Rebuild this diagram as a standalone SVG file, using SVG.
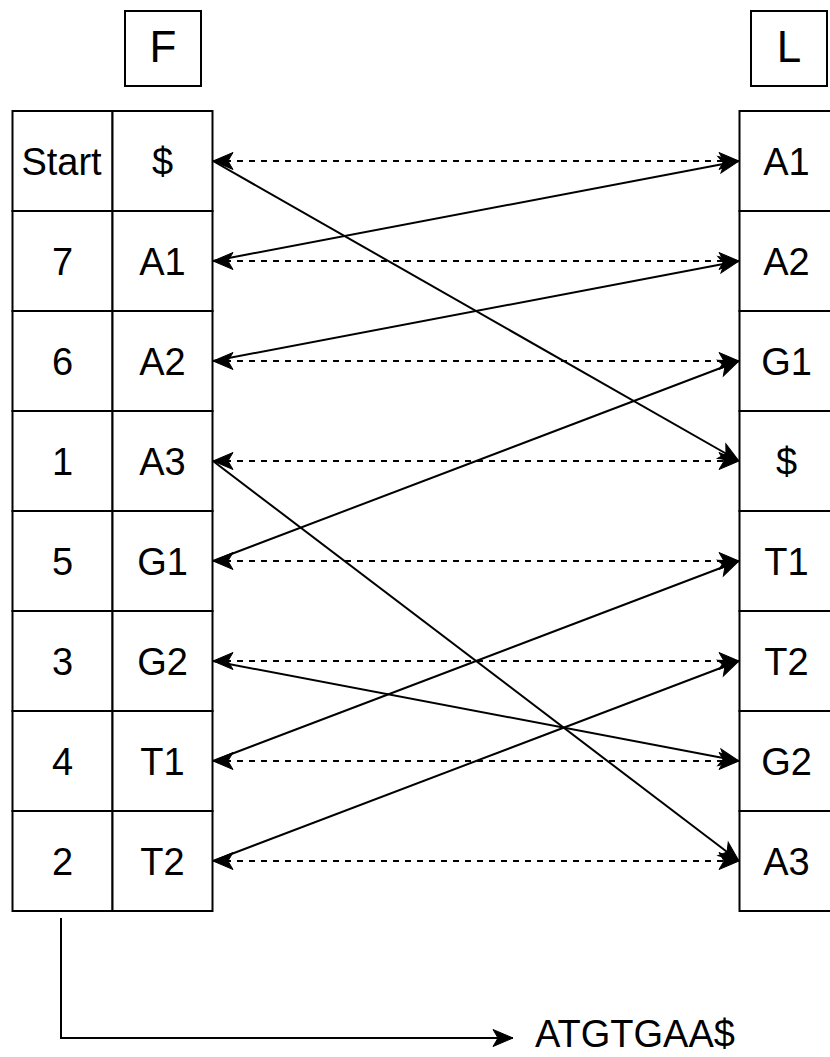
<svg xmlns="http://www.w3.org/2000/svg" width="830" height="1057" viewBox="0 0 830 1057">
<style>
.box{fill:#fff;stroke:#000;stroke-width:2}
.t{font-family:"Liberation Sans",Arial,sans-serif;font-size:38px;fill:#000;text-anchor:middle}
.h{font-family:"Liberation Sans",Arial,sans-serif;font-size:44px;fill:#000;text-anchor:middle}
.sol{fill:none;stroke:#000;stroke-width:2;marker-end:url(#ah)}
.dash{fill:none;stroke:#000;stroke-width:2;stroke-dasharray:6 6;marker-start:url(#ah);marker-end:url(#ah)}
</style>
<defs>
<marker id="ah" markerUnits="userSpaceOnUse" markerWidth="22" markerHeight="20" refX="20" refY="8.5" orient="auto-start-reverse" overflow="visible">
<path d="M0,0 L20,8.5 L0,17 L5,8.5 Z" fill="#000" stroke="#000" stroke-width="1"/>
</marker>
</defs>
<rect width="830" height="1057" fill="#fff"/>
<g id="F-label"><rect class="box" x="125" y="11" width="76" height="75"/><text class="h" x="163" y="62">F</text></g>
<g id="L-label"><rect class="box" x="751" y="11" width="76" height="75"/><text class="h" x="789" y="62">L</text></g>
<g id="F-table">
<g id="f0"><rect class="box" x="12.5" y="111" width="100" height="100"/><text class="t" x="61.5" y="174.5">Start</text><rect class="box" x="112.5" y="111" width="100" height="100"/><text class="t" x="162.5" y="174.5">$</text></g>
<g id="f1"><rect class="box" x="12.5" y="211" width="100" height="100"/><text class="t" x="62.5" y="274.5">7</text><rect class="box" x="112.5" y="211" width="100" height="100"/><text class="t" x="162.5" y="274.5">A1</text></g>
<g id="f2"><rect class="box" x="12.5" y="311" width="100" height="100"/><text class="t" x="62.5" y="374.5">6</text><rect class="box" x="112.5" y="311" width="100" height="100"/><text class="t" x="162.5" y="374.5">A2</text></g>
<g id="f3"><rect class="box" x="12.5" y="411" width="100" height="100"/><text class="t" x="62.5" y="474.5">1</text><rect class="box" x="112.5" y="411" width="100" height="100"/><text class="t" x="162.5" y="474.5">A3</text></g>
<g id="f4"><rect class="box" x="12.5" y="511" width="100" height="100"/><text class="t" x="62.5" y="574.5">5</text><rect class="box" x="112.5" y="511" width="100" height="100"/><text class="t" x="162.5" y="574.5">G1</text></g>
<g id="f5"><rect class="box" x="12.5" y="611" width="100" height="100"/><text class="t" x="62.5" y="674.5">3</text><rect class="box" x="112.5" y="611" width="100" height="100"/><text class="t" x="162.5" y="674.5">G2</text></g>
<g id="f6"><rect class="box" x="12.5" y="711" width="100" height="100"/><text class="t" x="62.5" y="774.5">4</text><rect class="box" x="112.5" y="711" width="100" height="100"/><text class="t" x="162.5" y="774.5">T1</text></g>
<g id="f7"><rect class="box" x="12.5" y="811" width="100" height="100"/><text class="t" x="62.5" y="874.5">2</text><rect class="box" x="112.5" y="811" width="100" height="100"/><text class="t" x="162.5" y="874.5">T2</text></g>
</g>
<g id="L-table">
<g id="l0"><rect class="box" x="739.5" y="111" width="94" height="100"/><text class="t" x="786.5" y="174.5">A1</text></g>
<g id="l1"><rect class="box" x="739.5" y="211" width="94" height="100"/><text class="t" x="786.5" y="274.5">A2</text></g>
<g id="l2"><rect class="box" x="739.5" y="311" width="94" height="100"/><text class="t" x="786.5" y="374.5">G1</text></g>
<g id="l3"><rect class="box" x="739.5" y="411" width="94" height="100"/><text class="t" x="786.5" y="474.5">$</text></g>
<g id="l4"><rect class="box" x="739.5" y="511" width="94" height="100"/><text class="t" x="786.5" y="574.5">T1</text></g>
<g id="l5"><rect class="box" x="739.5" y="611" width="94" height="100"/><text class="t" x="786.5" y="674.5">T2</text></g>
<g id="l6"><rect class="box" x="739.5" y="711" width="94" height="100"/><text class="t" x="786.5" y="774.5">G2</text></g>
<g id="l7"><rect class="box" x="739.5" y="811" width="94" height="100"/><text class="t" x="786.5" y="874.5">A3</text></g>
</g>
<g id="connectors">
<path class="dash" d="M213,161 L739,161"/>
<path class="dash" d="M213,261 L739,261"/>
<path class="dash" d="M213,361 L739,361"/>
<path class="dash" d="M213,461 L739,461"/>
<path class="dash" d="M213,561 L739,561"/>
<path class="dash" d="M213,661 L739,661"/>
<path class="dash" d="M213,761 L739,761"/>
<path class="dash" d="M213,861 L739,861"/>
<path class="sol" d="M213,161 L739,461"/>
<path class="sol" d="M213,261 L739,161"/>
<path class="sol" d="M213,361 L739,261"/>
<path class="sol" d="M213,461 L739,861"/>
<path class="sol" d="M213,561 L739,361"/>
<path class="sol" d="M213,661 L739,761"/>
<path class="sol" d="M213,761 L739,561"/>
<path class="sol" d="M213,861 L739,661"/>
<path class="sol" d="M61,918 L61,1038 L513,1038"/>
</g>
<g id="result"><text class="t" x="535" y="1047" text-anchor="start" style="text-anchor:start">ATGTGAA$</text></g>
</svg>
